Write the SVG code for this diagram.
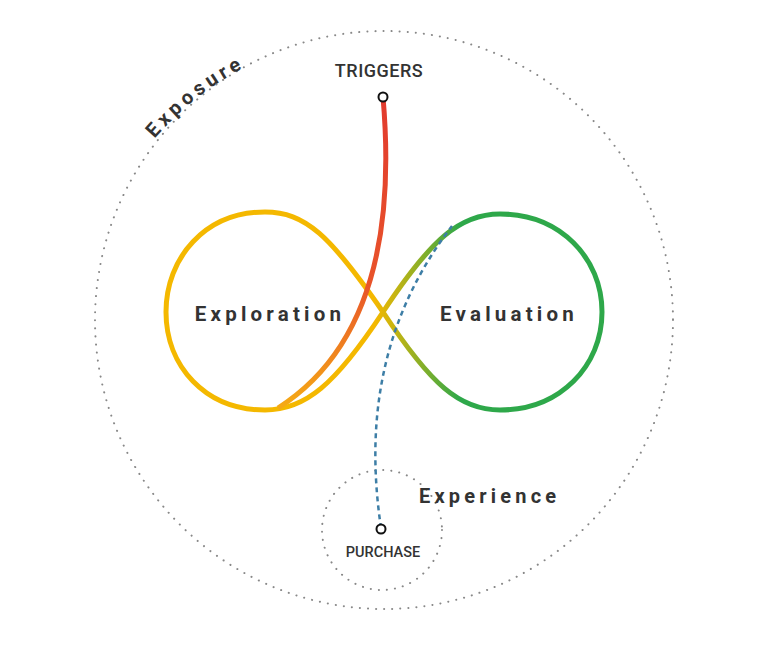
<svg xmlns="http://www.w3.org/2000/svg" width="774" height="652" viewBox="0 0 774 652">
<style>
.lbl{font-family:"Roboto","Liberation Sans",sans-serif;font-weight:bold;fill:#333;letter-spacing:4.2px}
.sm{font-family:"Roboto","Liberation Sans",sans-serif;font-weight:500;fill:#333}
.dot{fill:none;stroke:#888;stroke-width:2;stroke-dasharray:0.1 8;stroke-linecap:round}
</style>
<defs>
<linearGradient id="gInf" gradientUnits="userSpaceOnUse" x1="375" y1="0" x2="460" y2="0">
<stop offset="0" stop-color="#f4b800"/><stop offset="1" stop-color="#2ea84a"/>
</linearGradient>
<linearGradient id="gRed" gradientUnits="userSpaceOnUse" x1="0" y1="100" x2="0" y2="405">
<stop offset="0" stop-color="#e23b2e"/><stop offset="0.6" stop-color="#e8532a"/><stop offset="1" stop-color="#f5a915"/>
</linearGradient>
<path id="arc" d="M 120,190 A 289,289 0 0 1 330,40"/>
</defs>
<g id="exposure">
<circle class="dot" cx="384" cy="320" r="289"/>
<text class="lbl" font-size="20" letter-spacing="6"><textPath href="#arc" startOffset="62">Exposure</textPath></text>
</g>
<g id="experience">
<circle class="dot" cx="382" cy="530" r="60"/>
<text class="lbl" x="419" y="503" font-size="20" letter-spacing="5.3">Experience</text>
</g>
<g id="loop">
<path d="M383,312 C330,235 305,212 265,212 C205,212 166,258 166,312 C166,366 205,410 265,410 C305,410 335,385 383,312 C431,239 460,214 500,214 C560,214 602,258 602,312 C602,366 560,410 500,410 C460,410 431,385 383,312 Z" fill="none" stroke="url(#gInf)" stroke-width="5"/>
</g>
<g id="connectors">
<path d="M383,97 C392,200 385,340 278,408" fill="none" stroke="url(#gRed)" stroke-width="5"/>
<path d="M381,528 C368,440 372,330 452,226" fill="none" stroke="#3d7ea6" stroke-width="2.5" stroke-dasharray="5 4"/>
</g>
<g id="exploration"><text class="lbl" x="270" y="321" font-size="20.5" text-anchor="middle">Exploration</text></g>
<g id="evaluation"><text class="lbl" x="509" y="321" font-size="20.5" text-anchor="middle">Evaluation</text></g>
<g id="triggers">
<text class="sm" x="379" y="77" font-size="18" letter-spacing="0.5" text-anchor="middle">TRIGGERS</text>
<circle cx="383" cy="97" r="4.5" fill="#fff" stroke="#111" stroke-width="2"/>
</g>
<g id="purchase">
<circle cx="381" cy="529" r="4.5" fill="#fff" stroke="#111" stroke-width="2"/>
<text class="sm" x="383" y="557" font-size="14.5" text-anchor="middle">PURCHASE</text>
</g>
</svg>
